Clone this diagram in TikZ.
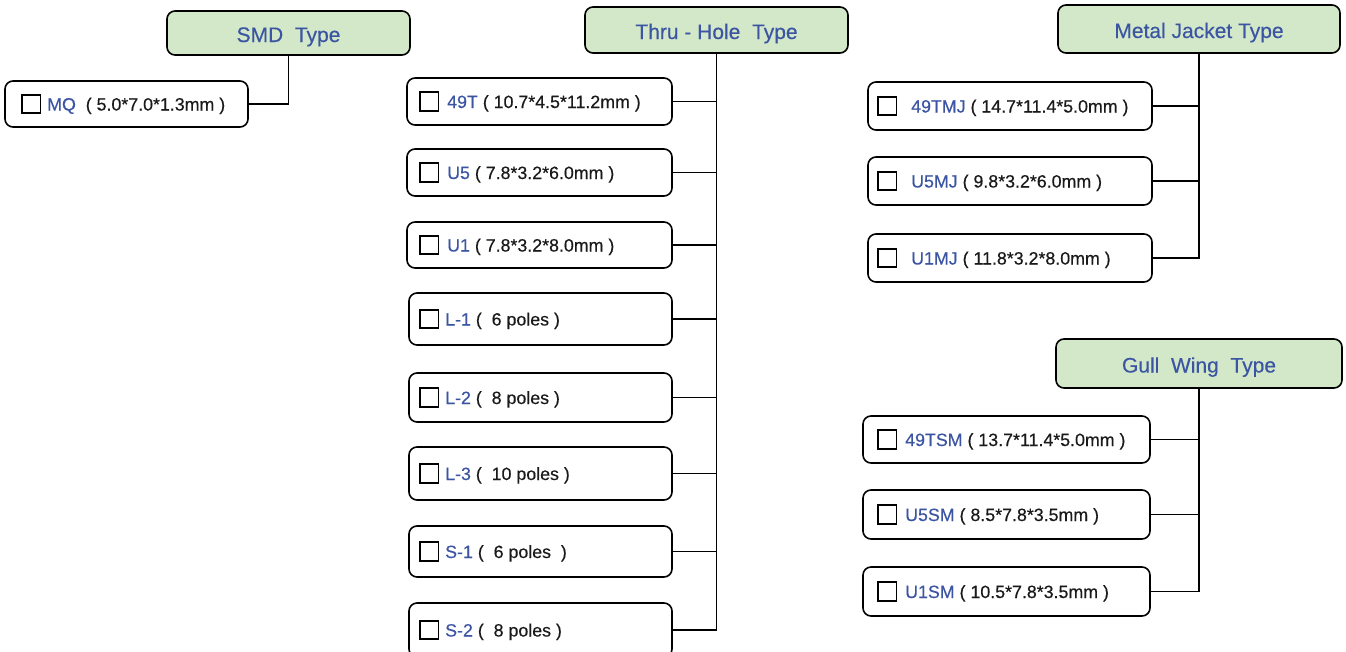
\documentclass[tikz,border=0pt]{standalone}
\usepackage{fontspec}
\setmainfont[FakeBold=0.35]{Liberation Sans}
\definecolor{hdrfill}{HTML}{D3E8C8}
\definecolor{tblue}{HTML}{3B55A3}
\definecolor{tblack}{HTML}{1A1A1A}
\tikzset{
  hdr/.style={draw, line width=1.6pt, rounded corners=8pt, fill=hdrfill, inner sep=0pt,
    font=\fontsize{21}{25}\selectfont, text=tblue, text height=18pt, text depth=0pt},
  ibox/.style={draw, line width=1.6pt, rounded corners=8pt, fill=white, inner sep=0pt},
  cbox/.style={draw, line width=1.8pt, minimum size=18.5pt, inner sep=0pt, anchor=west},
  itxt/.style={anchor=west, inner sep=0pt, font=\fontsize{17.8}{20}\selectfont, text=tblack,
    text height=13pt, text depth=0pt},
  conn/.style={line width=1.6pt},
}
\newcommand\nm[1]{\textcolor{tblue}{#1}}
% name, x1, y1, x2, y2, checkbox x, text x, label
\newcommand\pbx[8]{%
  \node[ibox, minimum width={(#4-#2)*1pt}, minimum height={(#5-#3)*1pt}] (#1) at ({(#2+#4)/2},{(#3+#5)/2}) {};
  \node[cbox] (#1c) at (#6,{(#3+#5)/2}) {};
  \node[itxt] (#1t) at (#7,{(#3+#5)/2}) {#8};
}
\newcommand\hbx[6]{%
  \node[hdr, minimum width={(#4-#2)*1pt}, minimum height={(#5-#3)*1pt}] (#1) at ({(#2+#4)/2},{(#3+#5)/2}) {#6};
}
\begin{document}
\begin{tikzpicture}[x=1pt,y=-1pt]
\useasboundingbox (0,0) rectangle (1346,651);
\clip (0,0) rectangle (1346,651);
% SMD
\hbx{smd}{167}{11}{410}{55}{SMD~~Type}
\pbx{mq}{5}{81}{248}{127}{21}{47}{\nm{MQ}~~( 5.0*7.0*1.3mm )}
\draw[conn] (smd.south) |- (mq.east);
% Thru-Hole
\hbx{thh}{585}{7}{848}{53}{Thru - Hole~~Type}
\pbx{ta}{407}{78}{672}{125}{419}{447}{\nm{49T} ( 10.7*4.5*11.2mm )}
\pbx{tb}{407}{149}{672}{196}{419}{447}{\nm{U5} ( 7.8*3.2*6.0mm )}
\pbx{tc}{407}{222}{672}{268}{419}{447}{\nm{U1} ( 7.8*3.2*8.0mm )}
\pbx{td}{409}{293}{672}{345}{419}{445}{\nm{L-1} (~~6 poles )}
\pbx{te}{409}{373}{672}{422}{419}{445}{\nm{L-2} (~~8 poles )}
\pbx{tf}{409}{447}{672}{500}{419}{445}{\nm{L-3} (~~10 poles )}
\pbx{tg}{409}{526}{672}{577}{419}{445}{\nm{S-1} (~~6 poles~~)}
\pbx{th}{409}{603}{672}{657}{419}{445}{\nm{S-2} (~~8 poles )}
\draw[conn] (thh.south) |- (th.east);
\foreach \n in {ta,tb,tc,td,te,tf,tg}{\draw[conn] (\n.east) -- (\n.east -| thh.south);}
% Metal Jacket
\hbx{mj}{1058}{5}{1340}{53}{Metal Jacket Type}
\pbx{ma}{868}{82}{1152}{130}{877}{911}{\nm{49TMJ} ( 14.7*11.4*5.0mm )}
\pbx{mb}{868}{157}{1152}{205}{877}{911}{\nm{U5MJ} ( 9.8*3.2*6.0mm )}
\pbx{mc}{868}{234}{1152}{282}{877}{911}{\nm{U1MJ} ( 11.8*3.2*8.0mm )}
\draw[conn] (mj.south) |- (mc.east);
\foreach \n in {ma,mb}{\draw[conn] (\n.east) -- (\n.east -| mj.south);}
% Gull Wing
\hbx{gw}{1056}{339}{1342}{388}{Gull~~Wing~~Type}
\pbx{ga}{863}{416}{1150}{463}{877}{905}{\nm{49TSM} ( 13.7*11.4*5.0mm )}
\pbx{gb}{863}{490}{1150}{539}{877}{905}{\nm{U5SM} ( 8.5*7.8*3.5mm )}
\pbx{gc}{863}{567}{1150}{616}{877}{905}{\nm{U1SM} ( 10.5*7.8*3.5mm )}
\draw[conn] (gw.south) |- (gc.east);
\foreach \n in {ga,gb}{\draw[conn] (\n.east) -- (\n.east -| gw.south);}
\end{tikzpicture}
\end{document}
